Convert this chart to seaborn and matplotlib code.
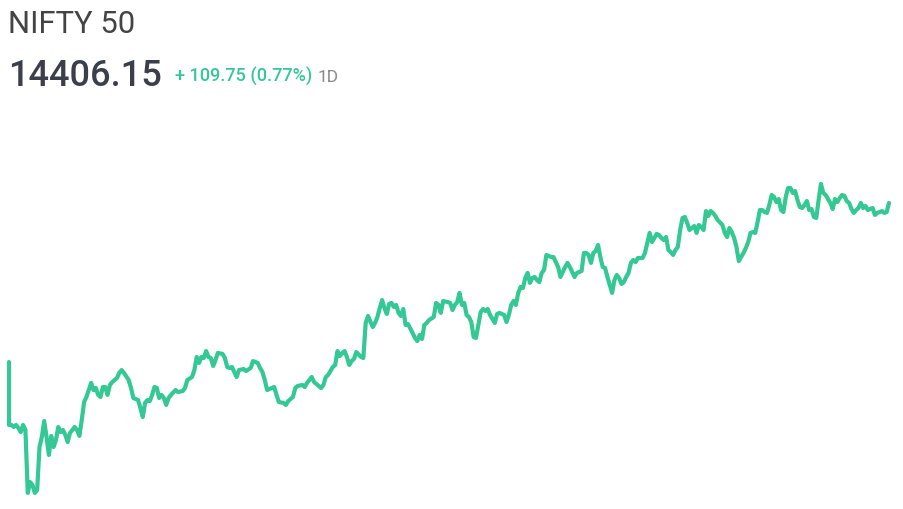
import matplotlib
matplotlib.use("Agg")
import matplotlib.pyplot as plt
import seaborn as sns
import pandas as pd

# ---- data (minutes after 09:15, NIFTY 50 price) ----
minutes = [0, 0, 1, 2, 3, 4, 5, 6, 7, 8, 9, 10, 11, 12, 13, 14, 15, 16, 17, 18, 19, 20,
           21, 22, 23, 24, 25, 26, 28, 29, 30, 31, 32, 33, 34, 35, 36, 37, 38, 39, 40,
           41, 42, 43, 44, 45, 46, 47, 48, 49, 51, 52, 53, 55, 56, 57, 58, 59, 60,
           61, 62, 63, 64, 65, 66, 67, 68, 69, 71, 72, 74, 75, 76, 78, 79, 80,
           81, 82, 83, 84, 85, 86, 87, 88, 89, 91, 92, 93, 94, 95, 97, 98, 100,
           101, 103, 104, 106, 107, 108, 109, 110, 112, 113, 114, 115, 117, 118, 119,
           121, 122, 123, 125, 126, 127, 129, 130, 132, 133, 134, 135, 136, 138, 139, 140,
           141, 142, 143, 144, 145, 146, 147, 148, 150, 151, 152, 153, 155, 156, 157, 158, 159, 160,
           161, 162, 163, 164, 165, 166, 167, 168, 169, 170, 172, 173, 174, 175, 176, 177, 178, 179,
           181, 182, 183, 184, 185, 187, 188, 189, 190, 191, 192, 193, 194, 195, 196, 197, 198, 199, 200,
           201, 202, 203, 204, 205, 206, 207, 208, 209, 211, 212, 213, 214, 215, 216, 217, 218, 219, 220,
           221, 222, 223, 224, 225, 226, 227, 228, 229, 230, 231, 232, 233, 234, 235, 236, 237, 238, 239, 240,
           241, 242, 244, 245, 246, 247, 248, 249, 250, 251, 252, 253, 254, 255, 256, 257, 258, 259, 260,
           261, 262, 263, 264, 265, 266, 267, 268, 270, 271, 272, 273, 274, 276, 277, 278, 279, 280,
           281, 282, 283, 284, 285, 286, 287, 288, 289, 290, 291, 292, 293, 294, 295, 296, 297, 298, 299, 300,
           301, 302, 304, 305, 306, 307, 308, 309, 310, 311, 312, 313, 314, 315, 316, 317, 318, 319, 320,
           321, 322, 323, 324, 325, 326, 327, 328, 329, 330, 331, 332, 333, 334, 335, 336, 337, 338, 339, 340,
           341, 342, 343, 344, 345, 346, 347, 348, 349, 350, 351, 352, 353, 354, 355, 356, 357, 358, 359, 360,
           361, 362, 363, 364, 365, 366, 368, 369, 370, 371, 372, 373, 374, 375]

prices = [14296.4, 14253.0, 14253.0, 14251.6, 14253.0, 14250.9, 14248.1, 14253.0, 14249.5, 14206.1,
          14213.6, 14211.6, 14206.1, 14208.1, 14237.8, 14244.7, 14255.7, 14244.7, 14232.3, 14245.4,
          14237.8, 14242.6, 14251.6, 14248.1, 14249.5, 14246.1, 14241.2, 14247.5, 14251.6, 14249.5,
          14245.4, 14256.4, 14268.8, 14272.3, 14277.1, 14282.0, 14277.1, 14278.5, 14273.7, 14272.3,
          14279.2, 14279.2, 14273.7, 14280.6, 14282.6, 14284.0, 14285.4, 14288.9, 14290.9, 14288.9,
          14284.0, 14278.5, 14271.6, 14270.2, 14264.7, 14258.5, 14268.2, 14270.2, 14269.5, 14273.7,
          14279.2, 14278.5, 14271.6, 14273.7, 14271.6, 14266.8, 14271.6, 14273.7, 14277.1, 14275.7,
          14276.4, 14278.5, 14284.0, 14286.1, 14290.9, 14299.9, 14295.8, 14299.9, 14299.2, 14304.0,
          14299.9, 14299.2, 14293.7, 14297.8, 14302.7, 14302.0, 14299.2, 14293.0, 14292.3, 14293.0,
          14286.1, 14290.9, 14291.6, 14290.2, 14292.3, 14297.1, 14295.8, 14292.3, 14289.5, 14284.0,
          14277.1, 14278.5, 14279.2, 14273.7, 14268.8, 14268.2, 14266.8, 14269.5, 14272.3, 14278.5,
          14279.9, 14280.6, 14279.2, 14282.0, 14286.1, 14282.6, 14279.9, 14278.5, 14280.6, 14286.1,
          14287.5, 14293.0, 14294.4, 14304.0, 14300.6, 14302.7, 14304.0, 14299.9, 14294.4, 14297.1,
          14298.5, 14303.3, 14299.9, 14299.2, 14323.4, 14328.2, 14320.6, 14323.4, 14327.5, 14333.7,
          14339.2, 14333.7, 14329.6, 14336.5, 14337.2, 14334.4, 14335.8, 14330.3, 14328.2, 14333.0,
          14322.0, 14322.7, 14316.5, 14313.0, 14310.9, 14315.1, 14312.3, 14322.0, 14323.4, 14325.4,
          14327.5, 14337.2, 14335.8, 14330.3, 14338.5, 14337.8, 14337.2, 14332.3, 14335.8, 14337.8,
          14344.1, 14335.8, 14337.2, 14328.9, 14327.5, 14324.0, 14313.7, 14313.0, 14322.0, 14330.9,
          14333.0, 14331.6, 14333.0, 14328.9, 14326.1, 14323.4, 14329.6, 14330.3, 14328.9, 14324.0,
          14328.9, 14335.8, 14338.5, 14335.8, 14344.1, 14348.2, 14347.5, 14354.4, 14357.9, 14351.0,
          14354.4, 14355.1, 14353.0, 14351.6, 14357.9, 14359.9, 14370.3, 14369.6, 14368.9, 14368.9,
          14365.4, 14362.0, 14355.1, 14358.5, 14362.0, 14364.8, 14362.0, 14358.5, 14355.1, 14357.9,
          14359.2, 14371.7, 14371.7, 14370.3, 14364.8, 14371.7, 14373.0, 14377.2, 14368.9, 14362.0,
          14361.3, 14355.1, 14349.6, 14344.1, 14353.0, 14356.5, 14354.4, 14350.3, 14351.6, 14355.1,
          14357.9, 14364.8, 14366.8, 14365.4, 14368.2, 14368.2, 14371.7, 14378.6, 14385.5, 14379.2,
          14384.8, 14384.1, 14382.0, 14380.6, 14382.7, 14373.7, 14372.3, 14370.3, 14373.7, 14375.8,
          14387.5, 14395.8, 14396.5, 14392.4, 14387.5, 14388.9, 14390.3, 14385.5, 14391.0, 14389.6,
          14387.5, 14400.6, 14397.2, 14400.6, 14399.3, 14397.2, 14394.4, 14391.0, 14385.5, 14382.7,
          14388.9, 14386.1, 14382.0, 14375.8, 14366.1, 14368.9, 14371.7, 14375.1, 14379.2, 14385.5,
          14386.1, 14385.5, 14393.0, 14401.3, 14401.3, 14399.9, 14399.3, 14404.8, 14411.7, 14410.3,
          14406.8, 14408.9, 14401.3, 14399.9, 14410.3, 14416.5, 14416.5, 14413.1, 14414.4, 14408.2,
          14403.4, 14402.7, 14404.8, 14407.5, 14401.3, 14402.0, 14396.5, 14395.8, 14408.2, 14419.3,
          14413.1, 14411.7, 14408.9, 14406.2, 14402.0, 14408.9, 14406.8, 14409.6, 14411.7, 14411.0,
          14407.5, 14406.2, 14402.0, 14399.3, 14401.3, 14402.7, 14406.2, 14402.7, 14404.1, 14401.3,
          14402.7, 14397.9, 14399.3, 14399.9, 14400.6, 14399.3, 14399.9, 14406.15]

title = "NIFTY 50"
last_price = "14406.15"
change_text = "+ 109.75 (0.77%)"
period_text = "1D"

line_color = "#34c894"

df = pd.DataFrame({"minute": minutes, "price": prices})

sns.set_theme(style="white")
plt.rcParams["font.family"] = ["Roboto", "DejaVu Sans"]

W, H = 904, 509
fig = plt.figure(figsize=(W / 100, H / 100), dpi=100)
fig.patch.set_facecolor("white")

ax = fig.add_axes([9 / W, 9 / H, 880 / W, 360 / H])
sns.lineplot(data=df, x="minute", y="price", estimator=None, sort=False,
             color=line_color, linewidth=3.0, ax=ax)
for ln in ax.lines:
    ln.set_solid_joinstyle("round")
    ln.set_solid_capstyle("round")
    ln.set_clip_on(False)
ax.set_xlim(0, 375)
ax.set_ylim(14201.22, 14449.62)
ax.axis("off")

fig.text(8 / W, 1 - 33 / H, title, fontsize=22.3, color="#444444",
         va="baseline", ha="left")
fig.text(8 / W, 1 - 86 / H, last_price, fontsize=26, color="#3b3f4c",
         fontweight="medium", va="baseline", ha="left")
fig.text(175 / W, 1 - 82 / H, change_text, fontsize=13, color=line_color,
         fontweight="medium", va="baseline", ha="left")
fig.text(318 / W, 1 - 82 / H, period_text, fontsize=12.5, color="#8a8a8a",
         va="baseline", ha="left")

fig.savefig("out.png", dpi=100, facecolor="white")
